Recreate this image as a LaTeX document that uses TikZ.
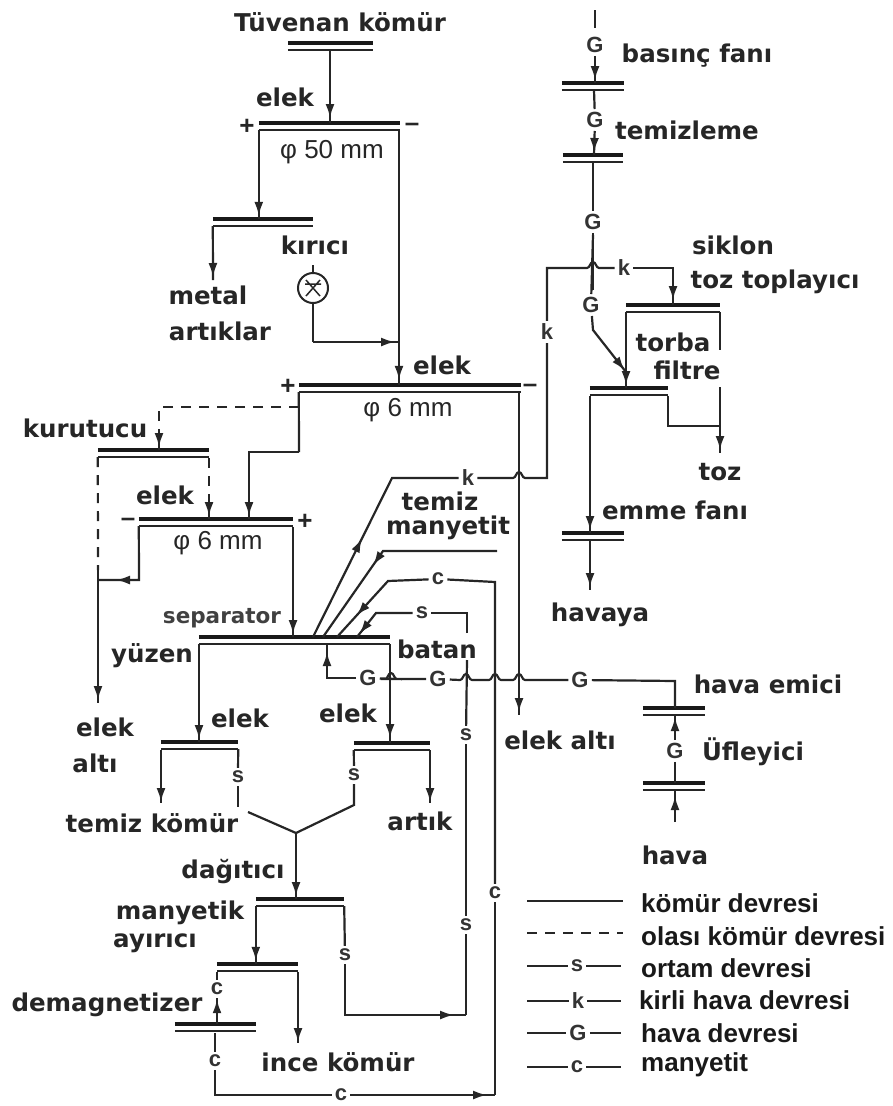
\documentclass[tikz,border=0pt]{standalone}
\usepackage{fontspec}
\setmainfont{DejaVu Sans}
\newfontfamily\legf{Liberation Sans}
\usetikzlibrary{arrows.meta,decorations.markings,fit}
\tikzset{
  wire/.style={line width=2.2pt,black!85},
  dashw/.style={wire,dash pattern=on 10pt off 8pt},
  ar/.style={decoration={markings,mark=at position #1 with {\arrow{Latex[length=14pt,width=9pt]}}},postaction={decorate}},
  ar/.default=-5pt,
  tx/.style={font=\fontsize{24.5}{26}\selectfont\bfseries,text=black!85,inner sep=0pt},
  txs/.style={font=\fontsize{21.5}{24}\selectfont\bfseries,text=black!75,inner sep=0pt},
  dim/.style={font=\legf\fontsize{26}{28}\selectfont,text=black!85,inner sep=0pt},
  sgn/.style={font=\legf\bfseries\fontsize{26}{26}\selectfont,text=black!85,inner sep=0pt},
  lab/.style={font=\legf\bfseries\fontsize{22}{22}\selectfont,text=black!80,inner sep=3pt},
  leg/.style={font=\legf\bfseries\fontsize{26}{28}\selectfont,anchor=west,text=black!90,inner sep=0pt},
}
\newcommand\screen[4]{%
  \coordinate (#1a) at (#2,#4);\coordinate (#1b) at (#3,#4+7);
  \node[fit=(#1a)(#1b),inner sep=0pt] (#1) {};
  \draw[line width=3.5pt,black!90] (#1.north west) -- (#1.north east);
  \draw[line width=2pt,black!85] (#1.south west) -- (#1.south east);}
\newcommand\hjump[2]{-- (#1-6,#2) .. controls (#1-3,#2) and (#1-3,#2-6) .. (#1,#2-6) .. controls (#1+3,#2-6) and (#1+3,#2) .. (#1+6,#2)}
\begin{document}
\begin{tikzpicture}[x=1pt,y=-1pt]
\useasboundingbox (0,0) rectangle (892,1106);
% screens
\screen{tuv}{288}{373}{43}
\screen{ea}{259}{400}{123}
\screen{mt}{213}{313}{219}
\screen{eb}{299}{521}{385}
\screen{kr}{98}{209}{450}
\screen{ec}{139}{293}{519}
\screen{sep}{199}{390}{637}
\screen{el}{161}{238}{742}
\screen{er}{354}{430}{743}
\screen{mg}{256}{344}{899}
\screen{mh}{217}{298}{964}
\screen{dm}{175}{256}{1024}
\screen{bf}{562}{624}{83}
\screen{tm}{563}{623}{155}
\screen{sk}{626}{720}{305}
\screen{tf}{590}{668}{388}
\screen{ef}{562}{624}{533}
\screen{he}{643}{705}{708}
\screen{uf}{643}{705}{783}
% crusher
\node[circle,draw,line width=2pt,minimum size=30pt,inner sep=0pt,black!85,
  path picture={\draw[line width=1.5pt] (path picture bounding box.north west) ++(8,7) -- ++(14,16)
     (path picture bounding box.north east) ++(-8,7) -- ++(-14,16)
     (path picture bounding box.west) ++(7,-4) -- ++(16,0);}] (cr) at (313,288) {};
% text
\node[tx] (t1) at (340,22) {Tüvenan kömür};
\node[tx] (t2) at (285,97) {elek};
\node[dim] (t3) at (332,152) {φ 50 mm};
\node[tx] (t4) at (315,245) {kırıcı};
\node[tx] (t5) at (208,295) {metal};
\node[tx] (t6) at (220,331) {artıklar};
\node[tx] (t7) at (442,365) {elek};
\node[dim] (t8) at (408,410) {φ 6 mm};
\node[tx] (t9) at (85,428) {kurutucu};
\node[tx] (t10) at (165,495) {elek};
\node[dim] (t11) at (218,543) {φ 6 mm};
\node[txs] (t12) at (222,618) {separator};
\node[tx] (t13) at (152,656) {yüzen};
\node[tx] (t14) at (240,718) {elek};
\node[tx] (t15) at (105,727) {elek};
\node[tx] (t16) at (95,763) {altı};
\node[tx] (t17) at (440,501) {temiz};
\node[tx] (t18) at (448,528) {manyetit};
\node[tx] (t19) at (437,649) {batan};
\node[tx] (t20) at (348,713) {elek};
\node[tx] (t21) at (560,740) {elek altı};
\node[tx] (t22) at (152,823) {temiz kömür};
\node[tx] (t23) at (420,821) {artık};
\node[tx] (t24) at (233,872) {dağıtıcı};
\node[tx] (t25) at (180,913) {manyetik};
\node[tx] (t26) at (155,943) {ayırıcı};
\node[tx] (t27) at (107,1005) {demagnetizer};
\node[tx] (t28) at (338,1062) {ince kömür};
\node[tx] (t29) at (697,56) {basınç fanı};
\node[tx] (t30) at (687,130) {temizleme};
\node[tx] (t31) at (733,245) {siklon};
\node[tx] (t32) at (775,282) {toz toplayıcı};
\node[tx] (t33) at (673,342) {torba};
\node[tx] (t34) at (687,370) {filtre};
\node[tx] (t35) at (720,472) {toz};
\node[tx] (t36) at (675,510) {emme fanı};
\node[tx] (t37) at (600,615) {havaya};
\node[tx] (t38) at (768,684) {hava emici};
\node[tx] (t39) at (753,752) {Üfleyici};
\node[tx] (t40) at (675,855) {hava};
\node[sgn] (p1) at (247,127) {+};
\node[sgn] (m1) at (412,127) {–};
\node[sgn] (p2) at (288,387) {+};
\node[sgn] (m2) at (530,388) {–};
\node[sgn] (m3) at (128,522) {–};
\node[sgn] (p3) at (305,522) {+};
% circuit letters
\node[lab] (G1) at (595,45) {G};
\node[lab] (G2) at (595,120) {G};
\node[lab] (G3) at (593,222) {G};
\node[lab] (G4) at (591,305) {G};
\node[lab] (G5) at (368,678) {G};
\node[lab] (G6) at (438,679) {G};
\node[lab] (G7) at (580,680) {G};
\node[lab] (G8) at (675,751) {G};
\node[lab] (k1) at (468,478) {k};
\node[lab] (k2) at (547,332) {k};
\node[lab] (k3) at (624,268) {k};
\node[lab] (c1) at (438,579) {c};
\node[lab] (c2) at (495,893) {c};
\node[lab] (c3) at (217,989) {c};
\node[lab] (c4) at (215,1061) {c};
\node[lab] (c5) at (341,1095) {c};
\node[lab] (s1) at (422,613) {s};
\node[lab] (s2) at (466,735) {s};
\node[lab] (s3) at (466,925) {s};
\node[lab] (s4) at (345,955) {s};
\node[lab] (s5) at (238,777) {s};
\node[lab] (s6) at (354,775) {s};
% junctions and free ends
\foreach \n/\x/\y in {a1/330/50,a2/330/123,b1/399/130,b3/398/342,b4/313/342,
  mt1/213/280,cr0/313/265,cr1/313/273,
  d1/299/407,d2/159/407,d3/159/450,d4/98/570,d5/209/458,d6/209/519,
  e1/299/452,e2/249/452,e3/249/519,f1/139/580,f2/98/580,f3/98/703,
  e5/519/392,e6/519/715,
  g1/293/527,g2/293/637,
  h1/313/637,h2/392/478,h3/323/637,h4/383/551,h5/497/551,
  i1/337/637,i2/388/581,i3/495/582,i4/357/637,i5/376/613,i6/467/613,i7/467/633,i8/467/660,
  j1/390/644,j2/390/743,j3/199/644,j4/199/742,
  l1/238/807,l2/248/812,l3/296/833,l4/354/805,l5/296/899,
  n1/430/750,n2/430/803,n3/161/750,n4/161/803,
  o1/345/1015,o2/466/1015,o3/298/972,o4/298/1043,o5/217/972,o6/217/1024,o7/215/1033,
  q1/215/1095,q2/495/1095,
  r1/547/268,r2/547/478,r3/673/268,r4/673/305,
  u0/595/10,u1/595/28,u2/595/83,u3/594/90,u4/594/155,u5/593/162,
  v1/593/290,v2/593/235,v3/593/318,v4/593/330,v5/626/372,
  w1/626/312,w2/626/388,w3/720/312,w4/720/350,w5/720/387,w6/720/453,w7/668/396,w8/668/426,w9/720/426,
  x1/590/396,x2/590/533,x3/590/541,x4/590/590,
  y1/327/644,y2/327/678,y3/675/681,y4/675/708,y5/675/716,y6/675/791,y7/675/822,y8/675/783}
  {\coordinate (\n) at (\x,\y);}
% left column
\draw[wire,ar] (a1) -- (a2);
\draw[wire,ar=-3pt] (ea.south west) -- (ea.south west |- mt.north);
\draw[wire,ar=-5pt] (b1) -- (b1 |- eb.north);
\draw[wire,ar=-3pt] (mt.south west) -- (mt1);
\draw[wire] (cr0) -- (cr1);
\draw[wire] (cr) -- (b4);
\draw[wire,ar=-3pt] (b4) -- (b3);
% second screen
\draw[dashw] (d1) -- (d2) -- (d3);
\draw[wire,ar=-3pt] (d2) ++(0,25) -- (d3);
\draw[dashw] (kr.south west) -- (d4);
\draw[dashw] (d5) -- (d6);
\draw[wire,ar=-3pt] (d5) ++(0,40) -- (d6);
\draw[wire,ar=-3pt] (e1) -- (e2) -- (e3);
\draw[wire] (eb.south west) -- (e1);
\draw[wire,ar=-18pt] (ec.south west) -- (f1) -- (f2);
\draw[wire,ar=-3pt] (d4) -- (f3);
\draw[wire,ar=-3pt] (g1) -- (g2);
\draw[wire,ar=-3pt] (e5) -- (e6);
% separator feeds
\draw[wire,ar=0.45] (h1) -- (h2) -- (k1);
\draw[wire,ar=0.6] (h5) -- (h4) -- (h3);
\draw[wire,ar=0.75] (c1) -- (i2) -- (i1);
\draw[wire] (c2) -- (i3) -- (c1);
\draw[wire] (q2) -- (c2);
\draw[wire,ar=-4pt] (s1) -- (i5) -- (i4);
\draw[wire] (i7) -- (i6) -- (s1);
\draw[wire] (s2) -- (i8);
\draw[wire] (s3) -- (s2);
\draw[wire] (o2) -- (s3);
% k line
\draw[wire] (k1) -- (513,478) \hjump{519}{478} -- (r2) -- (k2);
\draw[wire] (k2) -- (r1) -- (587,268) \hjump{593}{268} -- (k3);
\draw[wire,ar=-5pt] (k3) -- (r3) -- (r4);
% outputs of separator
\draw[wire,ar=-3pt] (j3) -- (j4);
\draw[wire,ar=-5pt] (j1) -- (j2);
\draw[wire,ar=-1pt] (n3) -- (n4);
\draw[wire,ar=-1pt] (n1) -- (n2);
\draw[wire] (el.south east) -- (s5);
\draw[wire] (s5) -- (l1);
\draw[wire] (er.south west) -- (s6);
\draw[wire] (s6) -- (l4) -- (l3);
\draw[wire] (l2) -- (l3);
\draw[wire,ar=-3pt] (l3) -- (l5);
% magnetic
\draw[wire,ar=-3pt] (mg.south west) -- (mg.south west |- mh.north);
\draw[wire] (mg.south east) -- (s4);
\draw[wire,ar=-12pt] (s4) -- (o1) -- (o2);
\draw[wire,ar=-1pt] (o3) -- (o4);
\draw[wire] (o5) -- (c3);
\draw[wire,ar=-1pt] (o6) -- (c3);
\draw[wire] (o7) -- (c4);
\draw[wire] (c4) -- (q1) -- (c5);
\draw[wire,ar=-8pt] (c5) -- (q2);
% air column
\draw[wire] (u0) -- (u1);
\draw[wire,ar=-3pt] (G1) -- (u2);
\draw[wire] (u3) -- (G2);
\draw[wire,ar=-3pt] (G2) -- (u4);
\draw[wire] (u5) -- (G3);
\draw[wire] (G3) -- (v1);
\draw[wire] (v2) -- (G4);
\draw[wire,ar=-2pt] (G4) -- (v4) -- (v5);
\draw[wire] (w1) -- (v5);
\draw[wire,ar=-3pt] (v5) -- (w2);
\draw[wire] (w3) -- (w4);
\draw[wire,ar=-3pt] (w5) -- (w6);
\draw[wire] (w7) -- (w8) -- (w9);
\draw[wire,ar=-3pt] (x1) -- (x2);
\draw[wire,ar=-3pt] (x3) -- (x4);
% G line
\draw[wire,ar=-8pt] (G5) -- (y2) -- (y1);
\draw[wire] (G6) -- (385,679) \hjump{391}{679} -- (G5);
\draw[wire] (G6) -- (460,680) \hjump{466}{680} \hjump{495}{680} \hjump{519}{680} -- (G7);
\draw[wire] (G7) -- (y3) -- (y4);
\draw[wire,ar=-1pt] (G8) -- (y5);
\draw[wire] (G8) -- (y8);
\draw[wire,ar=-5pt] (y7) -- (y6);
% legend
\node[leg] (g1t) at (641,903) {kömür devresi};
\node[leg] (g2t) at (641,936) {olası kömür devresi};
\node[leg] (g3t) at (641,968) {ortam devresi};
\node[leg] (g4t) at (639,1000) {kirli hava devresi};
\node[leg] (g5t) at (641,1033) {hava devresi};
\node[leg] (g6t) at (641,1065) {manyetit};
\node[lab] (ls) at (577,966) {s};
\node[lab] (lk) at (578,1001) {k};
\node[lab] (lG) at (578,1033) {G};
\node[lab] (lc) at (577,1067) {c};
\foreach \n/\x/\y in {la/527/901,lb/623/901,lc1/527/933,lc2/623/933,ld/527/966,le/621/966,
  lf/527/1001,lg/621/1001,lh/527/1033,li/621/1033,lj/527/1067,ll/621/1067}
  {\coordinate (\n) at (\x,\y);}
\draw[wire] (la) -- (lb);
\draw[dashw] (lc1) -- (lc2);
\draw[wire] (ld) -- (ls);\draw[wire] (ls) -- (le);
\draw[wire] (lf) -- (lk);\draw[wire] (lk) -- (lg);
\draw[wire] (lh) -- (lG);\draw[wire] (lG) -- (li);
\draw[wire] (lj) -- (lc);\draw[wire] (lc) -- (ll);
\end{tikzpicture}
\end{document}
